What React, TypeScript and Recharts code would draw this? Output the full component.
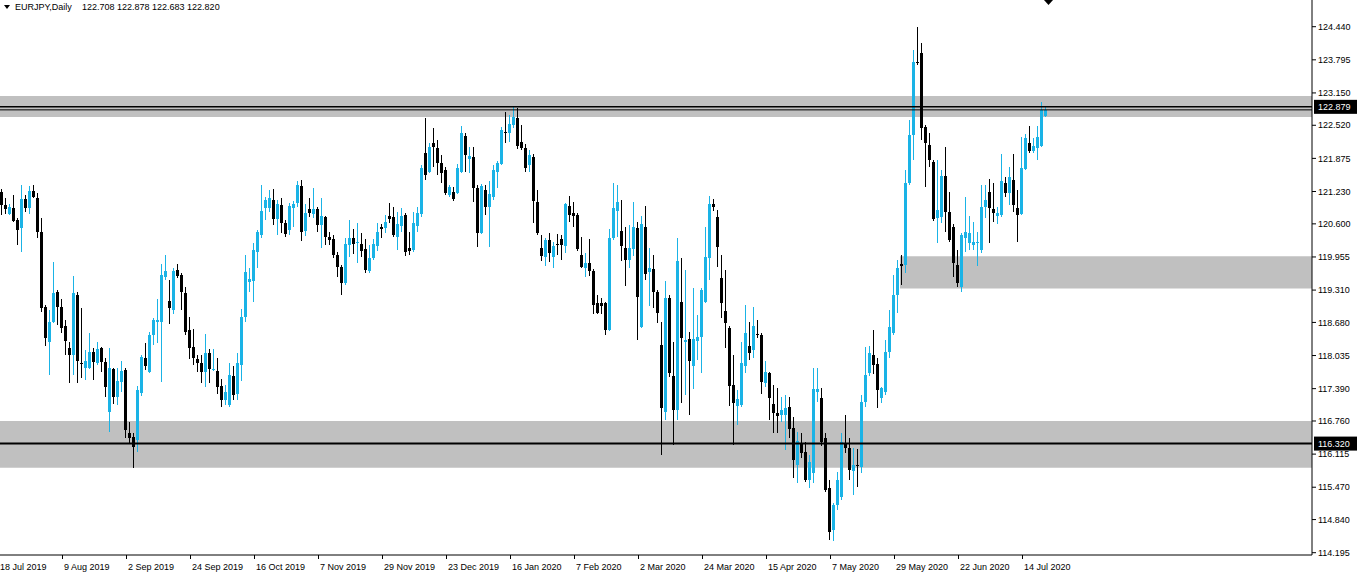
import React from 'react';
import { ComposedChart, Bar, XAxis, YAxis, ReferenceArea, ReferenceLine } from 'recharts';

// ---- data (EURJPY daily) ----
const OPEN = [
121.22,120.97,120.79,120.91,120.68,120.52,121.08,120.91,121.24,121.10,
120.44,118.98,118.30,118.69,119.27,118.98,118.61,118.18,118.05,119.21,
117.89,117.79,117.79,118.10,117.89,118.18,117.91,116.94,117.77,117.23,
117.52,117.75,116.53,116.45,116.39,117.31,117.99,117.71,118.43,118.69,
118.69,119.56,119.10,118.92,119.70,119.60,119.25,118.53,118.20,117.97,
117.89,117.71,118.08,117.75,117.73,117.44,117.17,117.07,117.64,117.29,
117.85,118.79,119.47,119.49,120.05,120.38,120.91,120.91,121.06,120.69,
120.97,120.62,120.48,120.91,121.01,121.34,120.46,120.89,120.79,120.89,
120.58,120.73,120.34,120.30,119.99,119.76,119.45,120.19,120.32,120.23,
120.21,120.11,119.68,119.93,120.17,120.54,120.52,120.75,120.73,120.34,
120.56,120.77,120.13,120.09,120.56,120.79,121.98,121.61,122.17,122.08,
121.79,121.65,121.16,121.22,121.20,121.61,122.31,121.86,121.90,121.30,
120.42,121.26,120.93,121.12,121.61,121.77,122.39,122.37,122.53,122.66,
122.20,122.08,121.75,121.90,121.03,120.13,119.95,120.29,119.95,120.21,
120.30,120.17,120.95,120.81,120.77,119.99,119.74,119.84,119.68,119.06,
119.06,119.06,118.53,120.32,120.85,120.46,120.13,119.90,120.11,120.52,
118.59,120.54,119.66,119.72,119.27,118.24,116.94,119.16,117.64,116.97,
119.08,118.30,118.36,117.83,118.32,118.40,119.08,119.93,120.99,120.73,
119.55,118.90,118.57,117.46,117.05,117.07,117.83,118.22,118.14,118.45,
118.43,117.50,117.69,117.09,116.92,116.88,116.88,117.03,116.62,115.90,
116.33,116.16,115.61,115.75,117.33,117.21,116.43,115.45,114.64,115.12,
115.28,116.33,116.23,115.78,115.90,115.86,117.13,117.69,118.05,117.87,
117.21,117.33,118.10,118.47,119.21,119.82,119.80,121.40,122.33,123.75,
123.93,122.49,122.14,121.80,120.71,120.73,121.53,120.83,120.54,119.80,
119.37,120.32,120.23,120.19,120.23,120.09,120.93,121.22,120.89,120.75,
120.77,121.40,121.20,121.45,120.91,120.79,121.67,122.17,122.02,122.08,
122.12,122.708,
];
const HIGH = [
121.28,121.10,120.99,121.16,120.72,121.36,121.16,121.34,121.36,121.20,
120.72,119.02,118.92,119.86,119.31,119.14,118.73,118.30,119.58,119.27,
118.96,118.14,118.47,118.18,118.30,118.20,117.99,118.18,117.79,117.79,
117.93,117.79,116.74,116.53,117.44,118.05,118.28,118.49,118.77,119.14,
119.82,119.99,119.51,119.74,119.82,119.64,119.37,118.79,118.55,118.05,
118.05,118.45,118.16,118.16,117.99,117.58,117.46,117.89,117.83,118.08,
118.94,119.99,119.74,120.23,120.48,121.36,121.12,121.26,121.28,121.06,
121.10,120.68,121.01,121.04,121.43,121.45,120.99,121.10,121.30,120.93,
121.10,120.75,120.44,120.38,120.05,119.80,120.32,120.68,120.50,120.62,
120.42,120.30,120.19,120.30,120.62,120.60,120.77,121.01,120.93,120.83,
120.91,120.81,120.44,120.83,120.93,121.75,122.66,122.17,122.47,122.23,
121.94,121.71,121.36,121.32,121.77,122.51,122.37,122.10,122.10,121.36,
121.38,121.36,121.43,121.75,121.82,122.49,122.78,122.72,122.90,122.86,
122.53,122.15,122.04,121.96,121.26,120.38,120.32,120.42,120.25,120.40,
120.38,121.01,121.14,121.03,120.81,120.34,120.03,120.30,119.72,119.21,
119.16,119.08,120.50,121.40,121.36,121.06,120.54,120.58,121.03,120.64,
120.75,120.95,120.13,119.99,119.31,118.69,119.49,119.21,118.30,120.32,
119.93,119.70,118.49,119.35,118.82,119.35,120.54,121.14,121.08,120.87,
119.99,119.70,118.61,118.05,117.36,118.30,119.02,118.69,118.98,118.73,
118.47,117.93,117.71,117.46,117.40,117.23,117.27,117.23,116.84,116.55,
116.53,116.35,116.10,117.79,117.79,117.40,116.53,115.61,115.16,115.77,
116.53,116.88,116.43,116.23,116.21,117.27,118.20,118.22,118.53,117.99,
117.42,118.34,118.92,119.60,119.90,119.99,121.65,122.62,123.99,124.43,
124.12,122.53,122.37,121.84,121.84,121.65,122.10,121.22,120.60,120.09,
120.42,121.12,120.75,120.64,120.44,121.36,121.36,121.47,121.40,120.93,
121.96,121.51,121.71,121.96,121.26,122.29,122.35,122.51,122.27,122.51,
122.97,122.878,
];
const LOW = [
120.77,120.79,120.77,120.64,120.19,120.05,120.83,120.79,121.10,120.32,
118.88,118.22,117.66,118.67,118.63,118.47,118.05,117.50,117.66,117.50,
117.60,117.56,117.77,117.56,117.85,117.71,117.23,116.55,117.09,117.07,
117.33,116.43,116.33,115.84,116.16,117.25,117.75,117.69,118.24,118.28,
117.52,119.51,118.65,118.84,119.55,118.92,118.43,117.97,117.85,117.71,
117.50,117.42,117.50,117.73,117.29,117.03,117.07,117.03,117.17,117.17,
117.54,118.69,119.27,119.08,119.74,120.32,120.68,120.83,120.58,120.38,
120.42,120.34,120.38,120.54,120.93,120.27,120.36,120.73,120.72,120.44,
120.13,120.19,120.19,119.93,119.56,119.21,119.41,119.95,120.01,119.84,
119.95,119.64,119.64,119.90,120.07,120.32,120.42,120.62,120.34,120.09,
120.44,119.97,119.99,120.05,120.44,120.73,121.45,121.59,121.71,121.55,
121.40,121.16,121.12,121.04,121.18,121.59,121.61,121.59,121.03,120.15,
120.40,120.77,120.15,121.06,121.30,121.75,122.17,122.19,122.47,122.06,
122.04,121.61,121.61,120.62,120.38,119.88,119.78,119.86,119.74,119.99,
119.90,120.03,120.64,120.54,120.07,119.74,119.56,119.58,118.84,118.84,
118.84,118.43,118.51,120.29,120.34,119.88,119.39,119.74,119.97,118.34,
118.57,119.51,119.00,118.96,118.67,116.10,116.78,117.62,116.29,116.78,
117.11,117.27,116.88,117.38,117.95,117.69,119.06,119.51,120.85,119.76,
118.77,118.18,117.05,116.29,116.68,117.03,117.69,117.95,117.99,118.38,
117.29,117.42,116.78,116.53,116.53,116.74,116.20,116.43,115.65,115.55,
116.04,115.57,115.45,115.55,117.13,116.27,115.38,114.44,114.42,115.03,
115.22,116.14,115.61,115.32,115.47,115.75,117.03,117.64,117.68,117.01,
117.11,117.27,117.99,118.43,118.86,119.41,119.64,121.36,121.84,123.69,
122.23,121.32,121.71,120.66,120.23,120.62,120.44,120.25,119.56,119.37,
119.27,120.05,120.09,120.09,119.78,120.03,120.72,120.23,120.64,120.60,
120.73,121.12,120.97,120.83,120.25,120.77,121.65,121.98,121.98,121.84,
122.10,122.683,
];
const CLOSE = [
120.97,120.89,120.93,120.66,120.48,121.08,120.91,121.24,121.12,120.44,
118.96,118.38,118.69,119.25,118.98,118.57,118.32,118.05,119.25,117.93,
117.87,117.93,118.10,117.91,118.16,117.91,117.42,117.79,117.23,117.54,
117.73,116.58,116.43,116.25,117.36,118.01,117.83,118.43,118.73,118.73,
119.60,119.68,118.96,119.68,119.58,119.27,118.49,118.18,117.99,117.89,
117.71,118.08,117.77,117.77,117.42,117.17,117.33,117.66,117.27,117.89,
118.79,119.66,119.53,120.09,120.44,120.85,121.06,121.10,120.69,120.99,
120.62,120.40,120.95,120.99,121.36,120.44,120.81,120.81,120.89,120.58,
120.75,120.34,120.29,119.99,119.76,119.45,120.21,120.32,120.21,120.25,
120.07,119.70,119.93,120.21,120.44,120.50,120.64,120.69,120.38,120.60,
120.75,120.05,120.07,120.62,120.81,121.69,121.55,122.10,122.10,121.79,
121.59,121.20,121.32,121.08,121.69,122.37,121.94,121.92,121.30,120.42,
121.34,120.93,121.18,121.65,121.79,122.43,122.37,122.55,122.68,122.12,
122.08,121.69,121.94,121.04,120.42,119.97,120.29,120.03,120.17,120.19,
120.19,120.99,120.77,120.75,120.11,119.76,119.84,119.68,119.02,118.86,
119.00,118.53,120.32,120.91,121.03,120.17,119.90,120.13,120.54,119.18,
120.60,119.62,119.74,119.27,118.86,117.01,119.16,117.69,116.97,119.88,
118.38,118.34,117.93,118.36,118.40,119.31,119.95,120.99,120.93,120.15,
119.06,118.67,117.44,117.11,117.19,117.89,118.47,118.08,118.61,118.43,
117.52,117.71,117.21,116.92,116.86,116.97,117.01,116.60,116.00,116.37,
116.14,115.61,115.96,117.38,117.38,116.35,115.42,114.60,115.12,115.61,
116.35,116.23,115.80,115.90,115.88,117.13,117.66,118.08,117.85,117.36,
117.40,118.10,118.59,119.21,119.74,119.78,121.40,122.33,123.75,123.73,
122.47,122.17,121.84,120.69,120.87,121.53,120.83,120.29,119.84,119.45,
120.38,120.44,120.42,120.25,120.25,120.93,121.06,120.91,120.81,120.81,
121.43,121.20,121.51,120.97,120.77,121.69,122.27,122.02,122.12,122.29,
122.82,122.820,
];

const X_TICK_LABELS = [
  '18 Jul 2019', '9 Aug 2019', '2 Sep 2019', '24 Sep 2019', '16 Oct 2019', '7 Nov 2019',
  '29 Nov 2019', '23 Dec 2019', '16 Jan 2020', '7 Feb 2020', '2 Mar 2020', '24 Mar 2020',
  '15 Apr 2020', '7 May 2020', '29 May 2020', '22 Jun 2020', '14 Jul 2020',
];
const BARS_PER_LABEL = 16;
const Y_TICKS = [124.44, 123.795, 123.15, 122.52, 121.875, 121.23, 120.6, 119.955, 119.31,
  118.68, 118.035, 117.39, 116.76, 116.115, 115.47, 114.84, 114.195];
const Y_DOMAIN = [114.15, 124.96];
const TOTAL_SLOTS = 328;

const ZONE_TOP = [122.68, 123.09];
const ZONE_LOW = [115.85, 116.76];
const ZONE_RIGHT = [119.34, 119.97];
const ZONE_RIGHT_START = 225;
const LINE_TOP = 122.879;
const LINE_BID = 122.82;
const LINE_LOW = 116.32;

const HEADER_SYMBOL = 'EURJPY,Daily';
const HEADER_VALUES = '122.708 122.878 122.683 122.820';

const CYAN = '#1ab3e6';
const FONT = "Tahoma, 'Liberation Sans', Arial, sans-serif";

const rows: any[] = [];
for (let i = 0; i < TOTAL_SLOTS; i++) {
  if (i < OPEN.length) {
    rows.push({ i, o: OPEN[i], h: HIGH[i], l: LOW[i], c: CLOSE[i], range: [LOW[i], HIGH[i]] });
  } else {
    rows.push({ i, o: null, h: null, l: null, c: null, range: null });
  }
}
const X_TICKS = X_TICK_LABELS.map((_, j) => j * BARS_PER_LABEL);

const Candle = (props: any) => {
  const { x, y, width, height, payload } = props;
  if (!payload || payload.o == null) return <g />;
  const { o, h, l, c } = payload;
  const top = Math.min(y, y + height);
  const hh = Math.abs(height);
  const ratio = h === l ? 0 : hh / (h - l);
  const yO = top + (h - o) * ratio;
  const yC = top + (h - c) * ratio;
  const bull = c >= o;
  const color = bull ? CYAN : '#000';
  const cx = Math.floor(x + width / 2) - 1;
  const bTop = Math.round(Math.min(yO, yC));
  const bH = Math.max(Math.round(Math.abs(yO - yC)), 1);
  return (
    <g shapeRendering="crispEdges">
      <rect x={cx} y={Math.round(top)} width={1} height={Math.max(Math.round(hh), 1)} fill={color} />
      <rect x={cx - 1} y={bTop} width={3} height={bH} fill={color} />
    </g>
  );
};

const XTick = (props: any) => {
  const { x, y, payload } = props;
  const j = X_TICKS.indexOf(payload.value);
  if (j < 0) return <g />;
  return (
    <g>
      <line x1={x - 3.5} x2={x - 3.5} y1={y} y2={y + 4} stroke="#000" strokeWidth={1} />
      <text x={x - 2} y={y + 14.5} fontSize={9} fontFamily={FONT} fill="#000">{X_TICK_LABELS[j]}</text>
    </g>
  );
};

const priceLabel = (text: string) => (props: any) => {
  const vb = props.viewBox || {};
  const right = (vb.x || 0) + (vb.width || 0);
  const yy = vb.y || 0;
  return (
    <g>
      <rect x={right + 2} y={yy - 7} width={43} height={14} fill="#000" />
      <text x={right + 6} y={yy + 3.5} fontSize={9} fontFamily={FONT} fill="#fff">{text}</text>
    </g>
  );
};

export default function App() {
  return (
    <div style={{ position: 'absolute', left: 0, top: 0, width: 1357, height: 577, background: '#fff' }}>
      <ComposedChart
        width={1357}
        height={577}
        data={rows}
        margin={{ top: 0, right: 0, bottom: 0, left: 0 }}
        barCategoryGap={0}
        barGap={0}
      >
        <XAxis
          dataKey="i"
          type="category"
          ticks={X_TICKS}
          interval={0}
          height={22}
          tickLine={false}
          tickSize={0}
          tickMargin={0}
          axisLine={{ stroke: '#000' }}
          tick={<XTick />}
        />
        <YAxis
          orientation="right"
          type="number"
          domain={Y_DOMAIN}
          allowDataOverflow
          ticks={Y_TICKS}
          interval={0}
          width={45}
          tickSize={4}
          tickMargin={2}
          tickLine={{ stroke: '#000' }}
          axisLine={{ stroke: '#000' }}
          tickFormatter={(v: number) => v.toFixed(3)}
          tick={{ fontSize: 9, fontFamily: FONT, fill: '#000' }}
        />
        <ReferenceArea y1={ZONE_TOP[0]} y2={ZONE_TOP[1]} fill="#c0c0c0" fillOpacity={1} stroke="none" ifOverflow="hidden" />
        <ReferenceArea y1={ZONE_LOW[0]} y2={ZONE_LOW[1]} fill="#c0c0c0" fillOpacity={1} stroke="none" ifOverflow="hidden" />
        <ReferenceArea x1={ZONE_RIGHT_START} x2={TOTAL_SLOTS - 1} y1={ZONE_RIGHT[0]} y2={ZONE_RIGHT[1]} fill="#c0c0c0" fillOpacity={1} stroke="none" ifOverflow="hidden" />
        <Bar dataKey="range" shape={<Candle />} isAnimationActive={false} />
        <ReferenceLine y={LINE_BID} stroke="#000" strokeWidth={1} />
        <ReferenceLine y={LINE_TOP} stroke="#000" strokeWidth={1.5} label={priceLabel(LINE_TOP.toFixed(3))} />
        <ReferenceLine y={LINE_LOW} stroke="#000" strokeWidth={2} label={priceLabel(LINE_LOW.toFixed(3))} />
      </ComposedChart>
      <svg width={1357} height={577} style={{ position: 'absolute', left: 0, top: 0, pointerEvents: 'none' }}>
        <polygon points="4,5 10,5 7,9" fill="#000" />
        <text x={15} y={10} fontSize={9} fontFamily={FONT} fill="#000">{HEADER_SYMBOL}</text>
        <text x={82} y={10} fontSize={9} fontFamily={FONT} fill="#000">{HEADER_VALUES}</text>
        <polygon points="1044,0 1053,0 1048.5,5" fill="#000" />
      </svg>
    </div>
  );
}
